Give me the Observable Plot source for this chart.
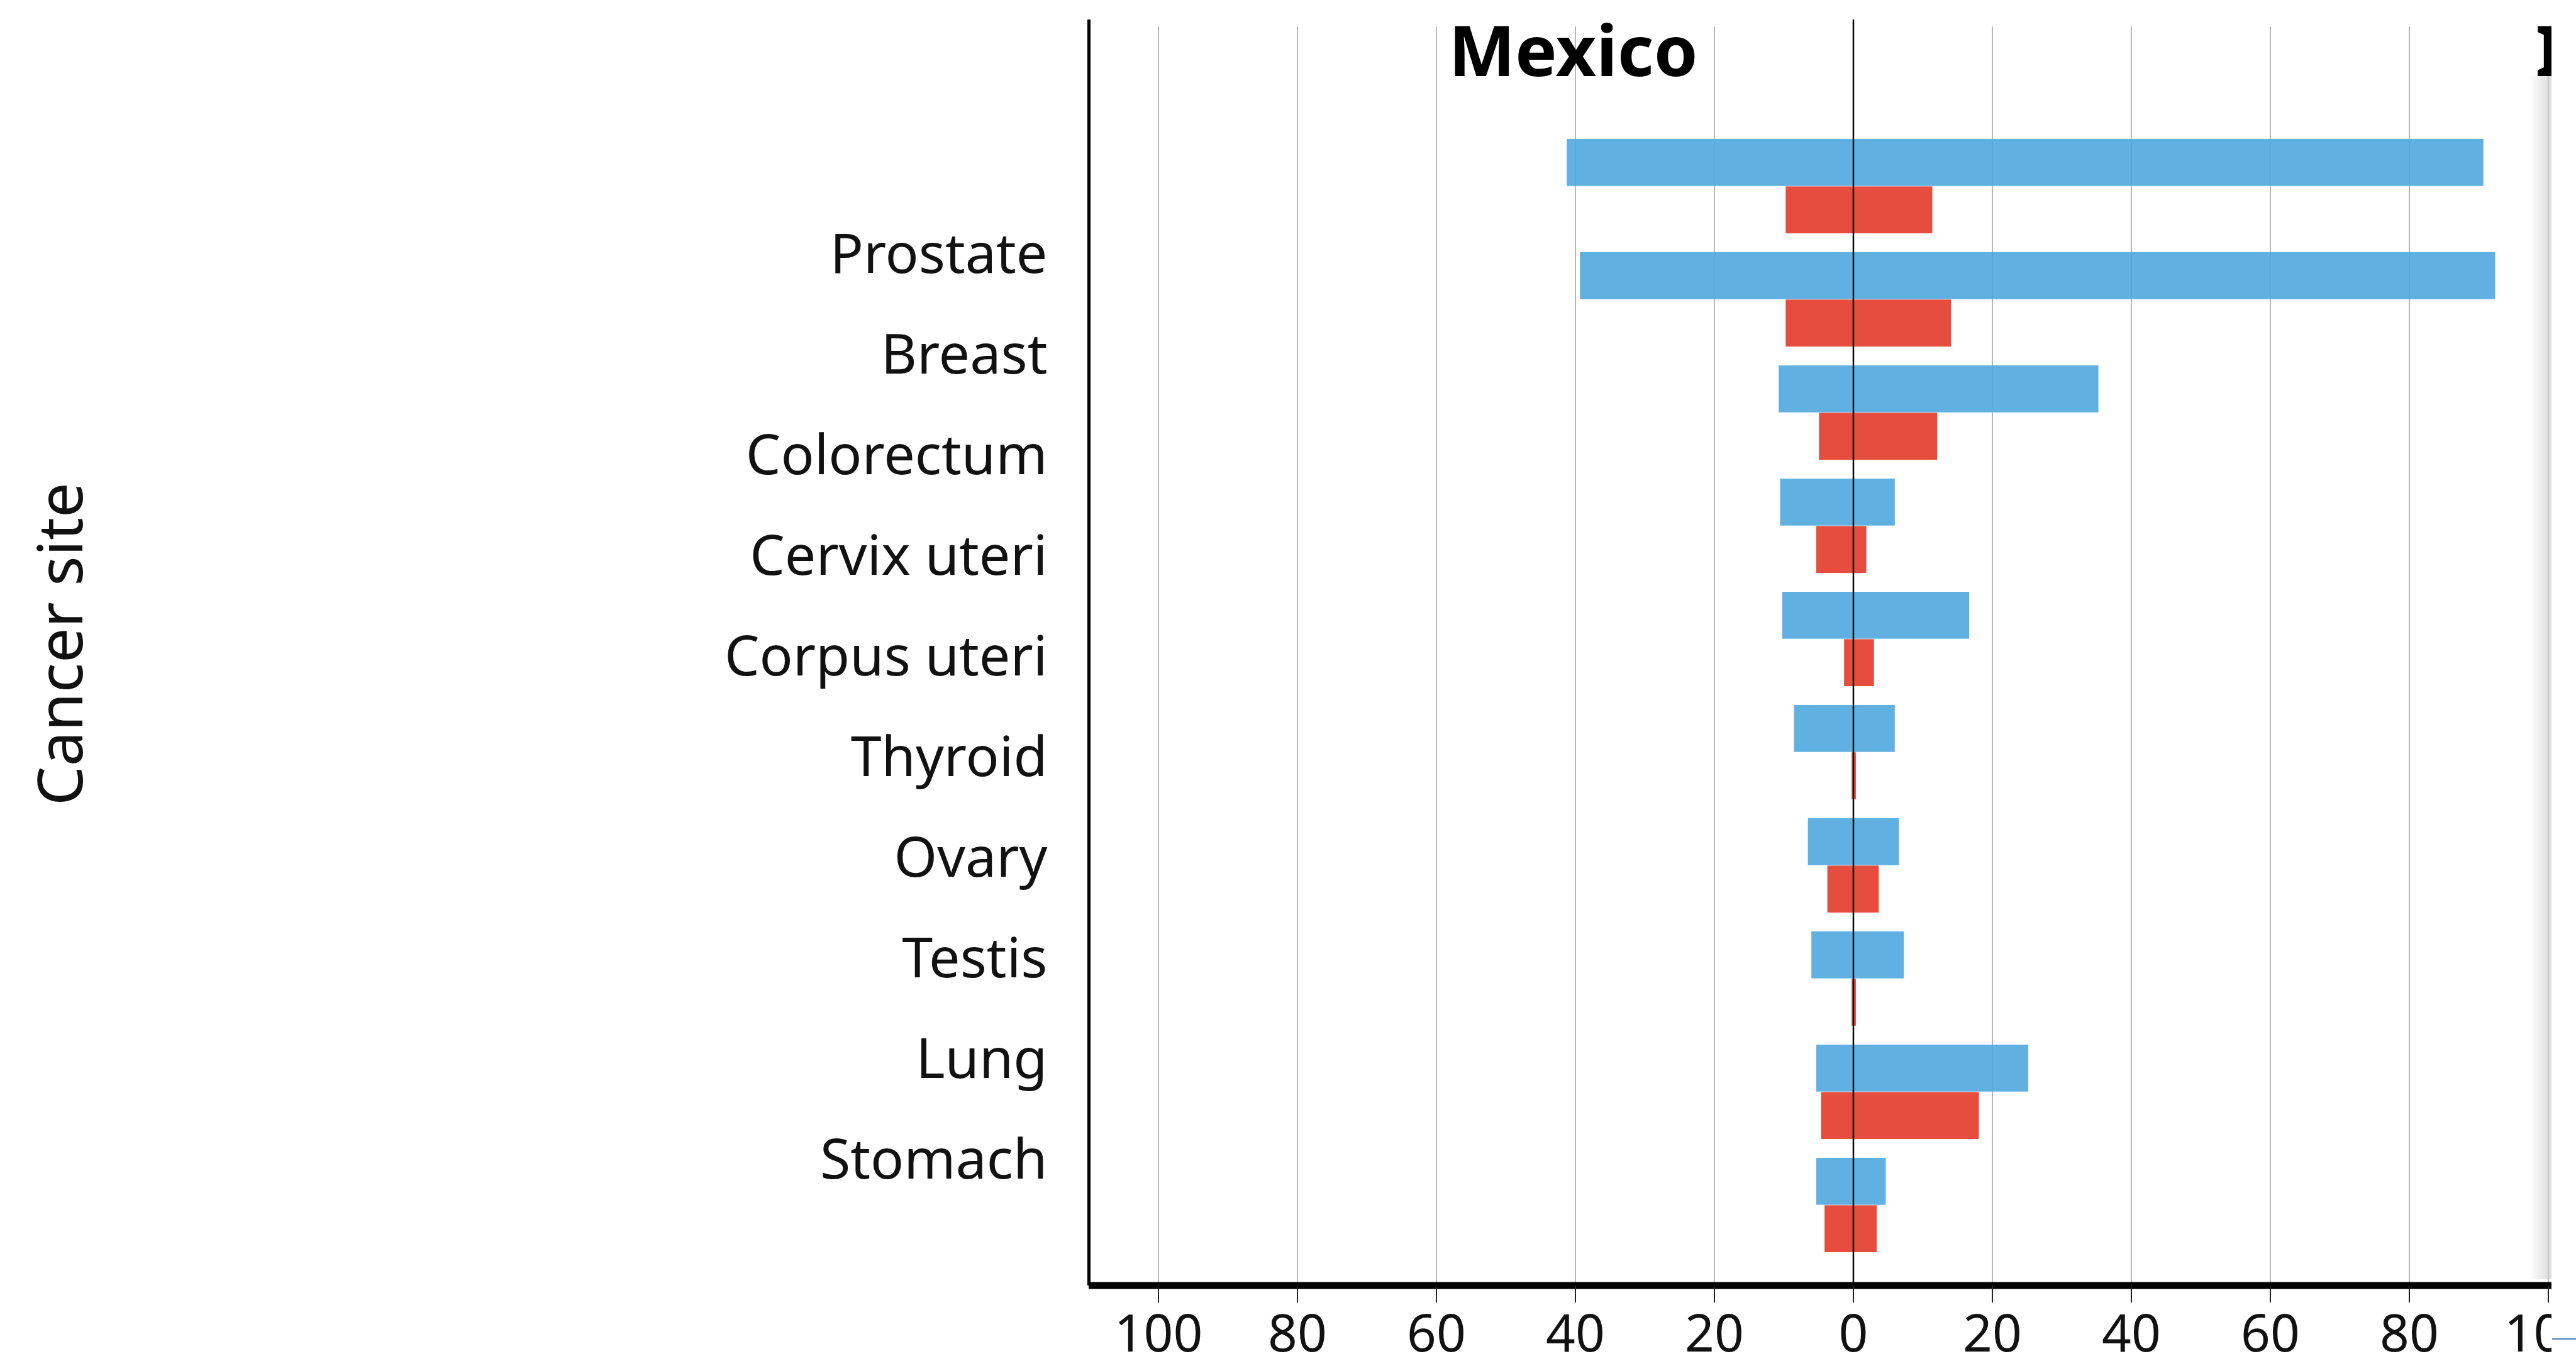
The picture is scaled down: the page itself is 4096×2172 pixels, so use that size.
<!DOCTYPE html>
<html><head><meta charset="utf-8">
<script src="https://cdn.jsdelivr.net/npm/d3@7"></script>
<script src="https://cdn.jsdelivr.net/npm/@observablehq/plot@0.6"></script>
<style>
html,body{margin:0;padding:0;background:#fff;}
#stage{position:relative;width:4096px;height:2172px;overflow:hidden;background:#fff;font-family:"Noto Sans",sans-serif;}
#stage svg{max-width:none;display:block;}
#left{position:absolute;left:0;top:0;}
#clip{position:absolute;left:0;top:0;width:4057px;height:2172px;overflow:hidden;}
#right{position:absolute;left:1720.6px;top:0;}
#shade{position:absolute;left:4022px;top:121px;width:35px;height:1913px;background:linear-gradient(to right,rgba(210,210,210,0),rgba(205,205,205,0.7));}
#blueline{position:absolute;left:4058px;top:2128px;width:38px;height:2px;background:#4a7ebb;}
</style></head><body>
<div id="stage"><div id="left"></div><div id="clip"><div id="right"></div></div><div id="shade"></div><div id="blueline"></div></div>
<script>
const sites = ["Prostate","Breast","Colorectum","Cervix uteri","Corpus uteri","Thyroid","Ovary","Testis","Lung","Stomach"];
const blueLeft  = [41.2, 39.3, 10.7, 10.5, 10.2, 8.5, 6.5, 6.0, 5.3, 5.3];
const blueRight = [90.7, 92.4, 35.3, 6.0, 16.7, 6.0, 6.6, 7.3, 25.2, 4.7];
const redLeft   = [9.7, 9.7, 4.9, 5.3, 1.3, 0.2, 3.7, 0.2, 4.6, 4.1];
const redRight  = [11.4, 14.1, 12.1, 1.9, 3.0, 0.4, 3.7, 0.4, 18.1, 3.4];
const xTicks = [-100,-80,-60,-40,-20,0,20,40,60,80,100];
const xDomain = [-110, 110];
const title = "Mexico";
const nextTitle = "I";
const yTitle = "Cancer site";

const rows = sites.map((s, i) => ({site: s, bl: blueLeft[i], br: blueRight[i], rl: redLeft[i], rr: redRight[i]}));
const blue = "#4fa7df", red = "#e43a2a";
const bandHalf = 75.35;
const font = "Noto Sans";

// Label column (its own band layout, as in the reference)
const left = Plot.plot({
  width: 1720, height: 2172,
  marginLeft: 0, marginRight: 0, marginTop: 0, marginBottom: 0,
  style: {fontFamily: font, background: "transparent", color: "#111"},
  y: {type: "point", domain: sites, range: [432, 1873.8], padding: 0, axis: null},
  marks: [
    Plot.text(sites, {y: d => d, text: d => d, frameAnchor: "right", dx: -55,
      textAnchor: "end", lineAnchor: "bottom", fontSize: 88, fill: "#111"}),
    Plot.text([yTitle], {frameAnchor: "top-left", dx: 130, dy: 1023.5, rotate: -90,
      textAnchor: "middle", lineAnchor: "bottom", fontSize: 99, fill: "#111"})
  ]
});
document.getElementById("left").appendChild(left);

const right = Plot.plot({
  width: 2451, height: 2172,
  marginLeft: 10, marginRight: 10, marginTop: 31, marginBottom: 128,
  style: {fontFamily: font, background: "transparent", color: "#111", overflow: "visible"},
  x: {domain: xDomain, range: [10, 2441], axis: null},
  y: {domain: sites, range: [217, 1995.5], paddingInner: 0.1668, paddingOuter: 0, align: 0.5, axis: null},
  marks: [
    Plot.ruleX(xTicks.filter(d => d !== 0), {stroke: "#b8b8b8", strokeWidth: 2, insetTop: 11}),
    Plot.barX(rows, {y: "site", x: d => -d.bl, fill: blue, fillOpacity: 0.9, insetBottom: bandHalf}),
    Plot.barX(rows, {y: "site", x: d => d.br, fill: blue, fillOpacity: 0.9, insetBottom: bandHalf}),
    Plot.barX(rows, {y: "site", x: d => -d.rl, fill: red, fillOpacity: 0.9, insetTop: bandHalf}),
    Plot.barX(rows, {y: "site", x: d => d.rr, fill: red, fillOpacity: 0.9, insetTop: bandHalf}),
    Plot.ruleX([0], {stroke: "#000", strokeWidth: 2.5}),
    Plot.ruleX([xDomain[0]], {stroke: "#000", strokeWidth: 5}),
    Plot.rect([xDomain], {x1: d => d[0], x2: d => d[1], fill: "#000", insetTop: 2007.5, insetBottom: -5.5}),
    Plot.axisX({ticks: xTicks, tickFormat: d => Math.abs(d), tickSize: 27, tickPadding: 18.8,
      fontSize: 82, stroke: "#222", strokeWidth: 2, fill: "#111"}),
    Plot.text([title], {frameAnchor: "top-left", dx: 770, dy: 89, textAnchor: "middle",
      lineAnchor: "bottom", fontSize: 112, fontWeight: "bold", fill: "#000"}),
    Plot.text([nextTitle], {frameAnchor: "top-left", dx: 2300, dy: 89, textAnchor: "start",
      lineAnchor: "bottom", fontSize: 112, fontWeight: "bold", fill: "#000"})
  ]
});
document.getElementById("right").appendChild(right);
</script>
</body></html>
